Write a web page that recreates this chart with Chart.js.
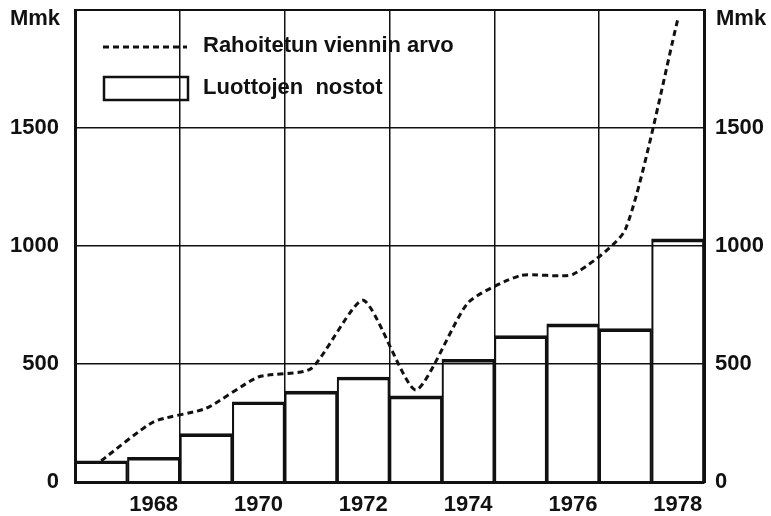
<!DOCTYPE html>
<html lang="fi">
<head>
<meta charset="utf-8">
<title>Luottojen nostot ja rahoitetun viennin arvo</title>
<script src="https://cdn.jsdelivr.net/npm/chart.js@4/dist/chart.umd.min.js"></script>
<style>
    body { margin: 0; background: #fff; }
    #kaavio { display: block; }
</style>
</head>
<body>
<canvas id="kaavio" width="771" height="516"></canvas>
<script>
// Aineisto (Mmk)
const vuodet = ['1967', '1968', '1969', '1970', '1971', '1972', '1973', '1974', '1975', '1976', '1977', '1978'];
const nakyvatVuodet = ['1968', '1970', '1972', '1974', '1976', '1978'];
const luottojenNostot = [90, 105, 205, 340, 385, 445, 365, 520, 620, 670, 650, 1030];
const viennninArvo = [90, 255, 312, 445, 480, 770, 390, 760, 875, 880, 1070, 1960];
const yAsteikko = [0, 500, 1000, 1500];
const yMax = 2000;

const fontti = { family: '"Liberation Sans", Arial, sans-serif', size: 22, weight: 'bold' };
const musta = '#111';

document.addEventListener("DOMContentLoaded", function () {
    piirraKaavio();
});

// Selite ja "Mmk"-otsikot piirretään itse kaavioalueen sisään
const selitePlugin = {
    id: 'selite',
    afterDraw(chart) {
        const ctx = chart.ctx;
        const alue = chart.chartArea;
        ctx.save();
        ctx.fillStyle = musta;
        ctx.strokeStyle = musta;
        ctx.font = 'bold 22px ' + fontti.family;
        ctx.textBaseline = 'middle';

        // Yksiköt akselien yläpäässä
        ctx.textAlign = 'right';
        ctx.fillText('Mmk', alue.left - 15, alue.top + 9);
        ctx.textAlign = 'left';
        ctx.fillText('Mmk', alue.right + 12, alue.top + 9);

        // Katkoviiva
        ctx.lineWidth = 3;
        ctx.setLineDash([6, 4]);
        ctx.beginPath();
        ctx.moveTo(alue.left + 28, alue.top + 37);
        ctx.lineTo(alue.left + 112, alue.top + 37);
        ctx.stroke();
        ctx.setLineDash([]);
        ctx.fillText('Rahoitetun viennin arvo', alue.left + 128, alue.top + 36);

        // Pylväs
        ctx.lineWidth = 2.5;
        ctx.strokeRect(alue.left + 29, alue.top + 67, 84, 23);
        ctx.fillText('Luottojen  nostot', alue.left + 128, alue.top + 78);
        ctx.restore();
    }
};

// Pystyakselit: ei ylimääräistä tilaa ylimmän asteikkomerkin yläpuolelle
function pystyAkselinLeveys(leveys) {
    return function (akseli) {
        akseli.width = leveys;
        akseli.paddingTop = 0;
        akseli.paddingBottom = 0;
    };
}

function piirraKaavio() {
    const kaavio = document.getElementById('kaavio');

    new Chart(kaavio, {
        type: 'bar',
        data: {
            labels: vuodet,
            datasets: [{
                type: 'line',
                label: 'Rahoitetun viennin arvo',
                data: viennninArvo,
                borderColor: musta,
                borderWidth: 3,
                borderDash: [6, 4],
                pointRadius: 0,
                tension: 0.2,
                fill: false,
                order: 0
            }, {
                label: 'Luottojen nostot',
                data: luottojenNostot,
                backgroundColor: 'rgba(0,0,0,0)',
                borderColor: musta,
                borderWidth: { top: 3, left: 1.5, right: 1.5, bottom: 0 },
                borderSkipped: 'start',
                categoryPercentage: 1,
                barPercentage: 1,
                order: 1
            }]
        },
        options: {
            responsive: false,
            animation: false,
            devicePixelRatio: 1,
            layout: { padding: { top: 10, left: 0, right: 0, bottom: 0 } },
            plugins: {
                legend: { display: false },
                tooltip: { enabled: false }
            },
            scales: {
                x: {
                    offset: true,
                    grid: {
                        offset: true,
                        drawTicks: false,
                        lineWidth: 1.5,
                        color: c => (c.index > 0 && c.index < vuodet.length && c.index % 2 === 0) ? musta : 'rgba(0,0,0,0)'
                    },
                    border: { display: true, color: musta, width: 3 },
                    ticks: {
                        autoSkip: false,
                        maxRotation: 0,
                        padding: 10,
                        color: musta,
                        font: fontti,
                        callback: function (arvo, i) {
                            const vuosi = vuodet[i];
                            return nakyvatVuodet.includes(vuosi) ? vuosi : '';
                        }
                    },
                    afterFit: akseli => {
                        akseli.height = 34;
                        akseli.paddingLeft = 0;
                        akseli.paddingRight = 0;
                    }
                },
                y: {
                    position: 'left',
                    min: 0,
                    max: yMax,
                    grid: {
                        drawTicks: false,
                        color: musta,
                        lineWidth: c => c.tick && c.tick.value === yMax ? 2 : 1.5
                    },
                    border: { display: true, color: musta, width: 3 },
                    ticks: {
                        stepSize: 500,
                        padding: 16,
                        color: musta,
                        font: fontti,
                        callback: arvo => yAsteikko.includes(arvo) ? String(arvo) : ''
                    },
                    afterFit: pystyAkselinLeveys(75)
                },
                y2: {
                    position: 'right',
                    min: 0,
                    max: yMax,
                    grid: { display: false, drawTicks: false },
                    border: { display: true, color: musta, width: 3 },
                    ticks: {
                        stepSize: 500,
                        padding: 11,
                        color: musta,
                        font: fontti,
                        callback: arvo => yAsteikko.includes(arvo) ? String(arvo) : ''
                    },
                    afterFit: pystyAkselinLeveys(67)
                }
            }
        },
        plugins: [selitePlugin]
    });
}
</script>
</body>
</html>
